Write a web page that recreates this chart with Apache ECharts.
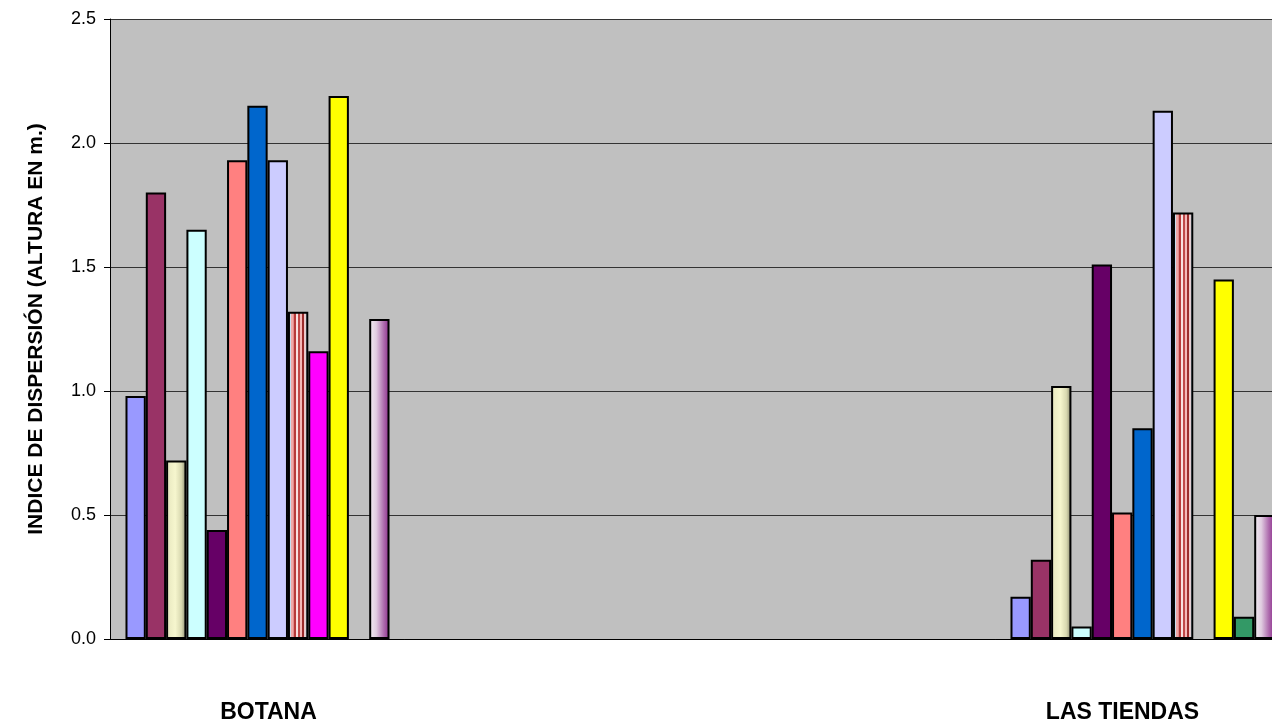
<!DOCTYPE html>
<html>
<head>
<meta charset="utf-8">
<script src="https://cdn.jsdelivr.net/npm/echarts@6/dist/echarts.min.js"></script>
<style>
html,body{margin:0;padding:0;background:#fff;overflow:hidden;width:1272px;height:724px;}
#chart{width:1290px;height:724px;}
</style>
</head>
<body>
<div id="chart"></div>
<script>
var categories = ['BOTANA', '', '', 'LAS TIENDAS'];
var yTicks = [0, 0.5, 1.0, 1.5, 2.0, 2.5];
var yAxisTitle = 'INDICE DE DISPERSIÓN (ALTURA EN m.)';

var s1  = [0.98, null, null, 0.17];
var s2  = [1.80, null, null, 0.32];
var s3  = [0.72, null, null, 1.02];
var s4  = [1.65, null, null, 0.05];
var s5  = [0.44, null, null, 1.51];
var s6  = [1.93, null, null, 0.51];
var s7  = [2.15, null, null, 0.85];
var s8  = [1.93, null, null, 2.13];
var s9  = [1.32, null, null, 1.72];
var s10 = [1.16, null, null, null];
var s11 = [2.19, null, null, 1.45];
var s12 = [null, null, null, 0.09];
var s13 = [1.29, null, null, 0.50];

var seriesData = [s1, s2, s3, s4, s5, s6, s7, s8, s9, s10, s11, s12, s13];

function lg(stops) {
  return new echarts.graphic.LinearGradient(0, 0, 1, 0, stops.map(function (s) { return { offset: s[0], color: s[1] }; }));
}

var fills = [
  '#9999FF',
  '#993366',
  lg([[0, '#E6E6BE'], [0.45, '#F6F6CE'], [0.75, '#D8D8B0'], [1, '#85856C']]),
  '#CCFFFF',
  '#660066',
  '#FF8080',
  '#0066CC',
  '#CCCCFF',
  lg([[0, '#C8DCEC'], [0.14, '#C8DCEC'], [0.15, '#F0A8A8'], [0.27, '#F0A8A8'], [0.28, '#B83A3A'], [0.38, '#B83A3A'], [0.39, '#F8E0E0'], [0.47, '#F8E0E0'], [0.48, '#C04848'], [0.58, '#C04848'], [0.59, '#F4B8B8'], [0.68, '#F4B8B8'], [0.69, '#9C2C2C'], [0.78, '#9C2C2C'], [0.79, '#F0C8C8'], [0.86, '#F0C8C8'], [0.87, '#C8DCEC'], [1, '#C8DCEC']]),
  '#FF00FF',
  '#FFFF00',
  '#339966',
  lg([[0, '#F4F0F4'], [0.35, '#E0CCE0'], [0.7, '#B070B0'], [1, '#8A2A8A']])
];

var series = seriesData.map(function (d, i) {
  return {
    name: 'Serie ' + (i + 1),
    type: 'bar',
    data: d,
    barGap: '0%',
    barCategoryGap: '10.5%',
    itemStyle: { color: fills[i], borderColor: '#000000', borderWidth: 2 },
    emphasis: { disabled: true }
  };
});

var FONT = 'Liberation Sans, Arial, sans-serif';

var chart = echarts.init(document.getElementById('chart'), null, { renderer: 'canvas' });
chart.setOption({
  animation: false,
  backgroundColor: '#ffffff',
  grid: {
    left: 110, top: 19, right: 0, height: 620,
    show: true, backgroundColor: '#C0C0C0', borderWidth: 0
  },
  xAxis: {
    type: 'category',
    data: categories,
    axisLine: { show: true, lineStyle: { color: '#000', width: 1 } },
    axisTick: { show: false },
    axisLabel: {
      margin: 62,
      interval: 0,
      fontFamily: FONT,
      fontSize: 23,
      fontWeight: 'bold',
      color: '#000',
      formatter: function (v) {
        if (v === 'BOTANA') return '{b|' + v + '}';
        if (v === 'LAS TIENDAS') return '{t|' + v + '}';
        return v;
      },
      rich: {
        b: { fontFamily: FONT, fontSize: 23, fontWeight: 'bold', color: '#000', padding: [0, 0, 0, 22] },
        t: { fontFamily: FONT, fontSize: 23, fontWeight: 'bold', color: '#000', padding: [0, 40, 0, 0] }
      }
    },
    splitLine: { show: false }
  },
  yAxis: {
    type: 'value',
    min: 0, max: 2.5, interval: 0.5,
    name: yAxisTitle,
    nameLocation: 'middle',
    nameGap: 63,
    nameTextStyle: { fontFamily: FONT, fontSize: 21, fontWeight: 'bold', color: '#000' },
    axisLine: { show: true, lineStyle: { color: '#000', width: 1 } },
    axisTick: { show: true, length: 6, lineStyle: { color: '#000' } },
    axisLabel: {
      margin: 14,
      fontFamily: FONT,
      fontSize: 18,
      color: '#000',
      formatter: function (v) { return v.toFixed(1); }
    },
    splitLine: { show: true, lineStyle: { color: '#333333', width: 1 } }
  },
  series: series
});
</script>
</body>
</html>
